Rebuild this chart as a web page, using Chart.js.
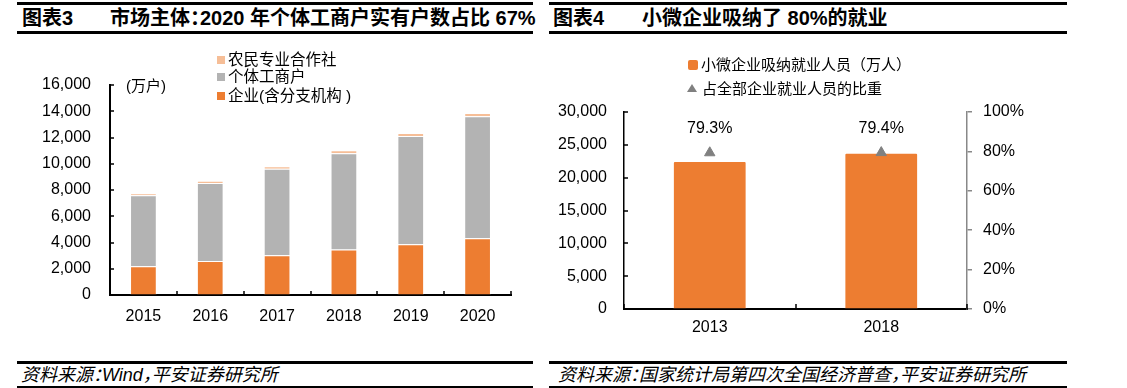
<!DOCTYPE html>
<html>
<head>
<meta charset="utf-8">
<script src="https://cdn.jsdelivr.net/npm/chart.js@4.4.1/dist/chart.umd.min.js"></script>
<style>
  body { margin:0; width:1127px; height:388px; background:#fff; position:relative; overflow:hidden;
         font-family:"Liberation Sans","Noto Sans CJK SC",sans-serif; color:#000; }
  .abs { position:absolute; }
  .line { position:absolute; background:#000; height:3px; }
  .ttl { position:absolute; font-weight:bold; font-size:20px; line-height:30px; top:3px; white-space:nowrap;
         font-feature-settings:"halt"; }
  .foot { position:absolute; font-style:italic; font-size:18px; line-height:22px; top:364px; white-space:nowrap;
          font-feature-settings:"halt"; }
  .lg { position:absolute; font-size:15.5px; line-height:18px; white-space:nowrap; }
  .sq { display:inline-block; width:8px; height:8px; margin-right:3px; vertical-align:1px; }
</style>
</head>
<body>
<!-- titles + rules -->
<div class="line" style="left:17px;top:2px;width:516px"></div>
<div class="line" style="left:17px;top:31px;width:516px"></div>
<div class="line" style="left:549px;top:2px;width:518px"></div>
<div class="line" style="left:549px;top:31px;width:518px"></div>
<div class="ttl" style="left:22px">图表3</div>
<div class="ttl" style="left:110px">市场主体：2020 年个体工商户实有户数占比 67%</div>
<div class="ttl" style="left:553px">图表4</div>
<div class="ttl" style="left:642px">小微企业吸纳了 80%的就业</div>

<div class="line" style="left:17px;top:361px;width:516px"></div>
<div class="line" style="left:17px;top:386px;width:516px"></div>
<div class="line" style="left:549px;top:361px;width:518px"></div>
<div class="line" style="left:549px;top:386px;width:518px"></div>
<div class="foot" style="left:21px">资料来源：Wind，平安证券研究所</div>
<div class="foot" style="left:558px">资料来源：国家统计局第四次全国经济普查，平安证券研究所</div>

<canvas id="c1" class="abs" width="540" height="300" style="left:0;top:40px"></canvas>
<canvas id="c2" class="abs" width="582" height="305" style="left:545px;top:40px"></canvas>

<div id="lg1"></div>
<div class="lg" style="left:126px;top:77px;font-size:15px">(万户)</div>
<div id="lg2"></div>

<script>
// 图表3 数据 (万户)
var years = ['2015','2016','2017','2018','2019','2020'];
var qiye = [2186, 2596, 3034, 3474, 3858, 4331];      // 企业(含分支机构)
var geti = [5408, 5930, 6580, 7329, 8261, 9287];      // 个体工商户
var nongmin = [153, 179, 201, 217, 220, 240];         // 农民专业合作社
var names1 = ['企业(含分支机构 )', '个体工商户', '农民专业合作社'];
var yTicks1 = {min: 0, max: 16000, step: 2000};

// 图表4 数据
var years2 = ['2013', '2018'];
var renyuan = [22550, 23800];          // 小微企业吸纳就业人员（万人）
var bizhong = [0.793, 0.794];          // 占全部企业就业人员的比重
var names2 = ['小微企业吸纳就业人员（万人）', '占全部企业就业人员的比重'];
var yTicks2 = {min: 0, max: 30000, step: 5000};

var ORANGE = '#ED7D31', GREY = '#B3B3B3', PEACH = '#F6BE97', TRI = '#808080';

Chart.defaults.font.family = '"Liberation Sans","Noto Sans CJK SC",sans-serif';
Chart.defaults.font.size = 16;
Chart.defaults.color = '#000';

// ticks drawn towards the inside of the plot (Chart.js only draws them outwards)
var inTicks = {
  id: 'inTicks',
  afterDraw: function(chart, args, opts) {
    var ctx = chart.ctx;
    ctx.save();
    (opts.list || []).forEach(function(it) {
      var sc = chart.scales[it.id];
      ctx.strokeStyle = it.color; ctx.lineWidth = it.width;
      ctx.beginPath();
      if (sc.isHorizontal()) {
        var n = sc.getLabels().length;
        for (var i = 0; i <= n; i++) {
          var x = Math.round(sc.left + (sc.right - sc.left) * i / n);
          ctx.moveTo(x, sc.top); ctx.lineTo(x, sc.top - it.len);
        }
      } else {
        sc.ticks.forEach(function(t) {
          var y = Math.round(sc.getPixelForValue(t.value));
          ctx.moveTo(sc.right, y); ctx.lineTo(sc.right + it.len, y);
        });
      }
      ctx.stroke();
    });
    ctx.restore();
  }
};

// 79.3% 之类的标签
var ptLabels = {
  id: 'ptLabels',
  afterDatasetsDraw: function(chart) {
    var ctx = chart.ctx;
    var meta = chart.getDatasetMeta(1);
    ctx.save();
    ctx.font = '16px "Liberation Sans"';
    ctx.fillStyle = '#000';
    ctx.textAlign = 'center'; ctx.textBaseline = 'middle';
    meta.data.forEach(function(p, i) {
      ctx.fillText((bizhong[i] * 100).toFixed(1) + '%', p.x, p.y - 24);
    });
    ctx.restore();
  }
};

function fmt(v) { return v.toLocaleString('en-US'); }

new Chart(document.getElementById('c1'), {
  type: 'bar',
  data: {
    labels: years,
    datasets: [
      {label: names1[0], data: qiye, backgroundColor: ORANGE},
      {label: names1[1], data: geti, backgroundColor: GREY},
      {label: names1[2], data: nongmin, backgroundColor: PEACH}
    ]
  },
  options: {
    responsive: false, animation: false,
    layout: {padding: {top: 45, right: 29, left: 0, bottom: 0}},
    datasets: {bar: {categoryPercentage: 1, barPercentage: 0.4, borderWidth: 1, borderColor: 'rgba(255,255,255,0.45)'}},
    plugins: {
      legend: {display: false}, tooltip: {enabled: false},
      inTicks: {list: [{id: 'x', len: 4, color: '#000', width: 1.5}, {id: 'y', len: 4, color: '#000', width: 1.5}]}
    },
    scales: {
      x: {stacked: true, grid: {drawOnChartArea: false, drawTicks: false},
          border: {color: '#000', width: 2},
          ticks: {padding: 12}, afterFit: function(s) { s.height = 45; }},
      y: {stacked: true, min: yTicks1.min, max: yTicks1.max,
          grid: {drawOnChartArea: false, drawTicks: false},
          border: {color: '#000', width: 2},
          ticks: {stepSize: yTicks1.step, padding: 19, callback: fmt},
          afterFit: function(s) { s.width = 110; }}
    }
  },
  plugins: [inTicks]
});

new Chart(document.getElementById('c2'), {
  type: 'bar',
  data: {
    labels: years2,
    datasets: [
      {label: names2[0], data: renyuan, backgroundColor: ORANGE, yAxisID: 'y',
       categoryPercentage: 1, barPercentage: 0.43, borderRadius: 2, borderSkipped: 'bottom',
       borderWidth: 1, borderColor: 'rgba(255,255,255,0.35)', order: 2},
      {type: 'line', label: names2[1], data: bizhong, yAxisID: 'y2', showLine: false,
       pointStyle: 'triangle', pointRadius: 6, backgroundColor: TRI, borderColor: TRI, borderWidth: 1, order: 1}
    ]
  },
  options: {
    responsive: false, animation: false,
    layout: {padding: {top: 72, right: 0, left: 0, bottom: 0}},
    plugins: {
      legend: {display: false}, tooltip: {enabled: false},
      inTicks: {list: [{id: 'x', len: 5, color: '#000', width: 1.5}, {id: 'y', len: 4, color: '#000', width: 1.5}]}
    },
    scales: {
      x: {grid: {drawOnChartArea: false, drawTicks: false},
          border: {color: '#000', width: 2},
          ticks: {padding: 9}, afterFit: function(s) { s.height = 36; }},
      y: {position: 'left', min: yTicks2.min, max: yTicks2.max,
          grid: {drawOnChartArea: false, drawTicks: false},
          border: {color: '#000', width: 1.5},
          ticks: {stepSize: yTicks2.step, padding: 17, callback: fmt},
          afterFit: function(s) { s.width = 79; }},
      y2: {position: 'right', min: 0, max: 1,
           grid: {drawOnChartArea: false, drawTicks: true, tickLength: 5, color: '#888', lineWidth: 1.5},
           border: {color: '#888', width: 1.5},
           ticks: {stepSize: 0.2, padding: 11, callback: function(v) { return Math.round(v * 100) + '%'; }},
           afterFit: function(s) { s.width = 160; }}
    }
  },
  plugins: [inTicks, ptLabels]
});

// legends (html)
var lg1 = [[names1[2], PEACH, 51], [names1[1], GREY, 68], [names1[0], ORANGE, 87]];
document.getElementById('lg1').innerHTML = lg1.map(function(r) {
  return '<div class="lg" style="left:217px;top:' + r[2] + 'px"><span class="sq" style="background:' + r[1] + '"></span>' + r[0] + '</div>';
}).join('');
document.getElementById('lg2').innerHTML =
  '<div class="lg" style="left:688px;top:56px;font-size:15px"><span class="sq" style="width:10px;height:10px;border-radius:2px;vertical-align:0;background:' + ORANGE + '"></span>' + names2[0] + '</div>' +
  '<div class="lg" style="left:687px;top:80px;font-size:15px"><span style="display:inline-block;width:0;height:0;border-left:5px solid transparent;border-right:5px solid transparent;border-bottom:8px solid ' + TRI + ';margin-right:5px;vertical-align:2px"></span>' + names2[1] + '</div>';
</script>
</body>
</html>
